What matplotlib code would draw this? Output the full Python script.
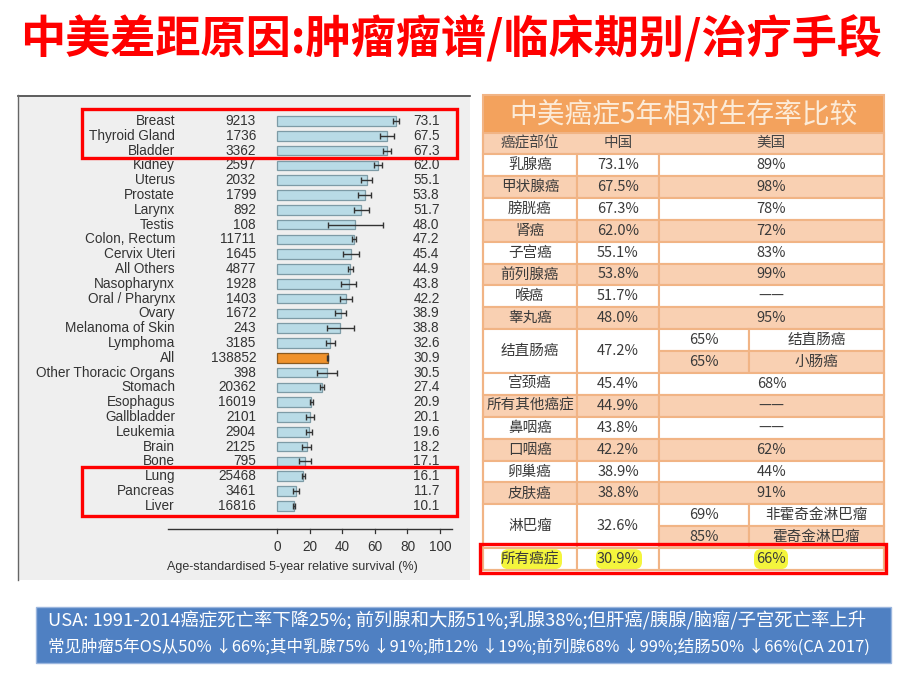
import matplotlib
matplotlib.use('Agg')
import matplotlib.pyplot as plt
from matplotlib.patches import Rectangle, FancyBboxPatch

plt.rcParams['font.family'] = ['Noto Sans CJK SC', 'DejaVu Sans']

# ---------------- data: left chart ----------------
sites = ['Breast', 'Thyroid Gland', 'Bladder', 'Kidney', 'Uterus', 'Prostate', 'Larynx',
         'Testis', 'Colon, Rectum', 'Cervix Uteri', 'All Others', 'Nasopharynx',
         'Oral / Pharynx', 'Ovary', 'Melanoma of Skin', 'Lymphoma', 'All',
         'Other Thoracic Organs', 'Stomach', 'Esophagus', 'Gallbladder', 'Leukemia',
         'Brain', 'Bone', 'Lung', 'Pancreas', 'Liver']
cases = [9213, 1736, 3362, 2597, 2032, 1799, 892, 108, 11711, 1645, 4877, 1928, 1403,
         1672, 243, 3185, 138852, 398, 20362, 16019, 2101, 2904, 2125, 795, 25468, 3461, 16816]
survival = [73.1, 67.5, 67.3, 62.0, 55.1, 53.8, 51.7, 48.0, 47.2, 45.4, 44.9, 43.8, 42.2,
            38.9, 38.8, 32.6, 30.9, 30.5, 27.4, 20.9, 20.1, 19.6, 18.2, 17.1, 16.1, 11.7, 10.1]
ci_half = [2.0, 4.5, 2.5, 2.4, 3.4, 4.0, 4.6, 17.0, 1.3, 5.0, 1.5, 4.7, 3.6, 3.6, 8.4,
           2.6, 0.5, 6.0, 1.0, 1.0, 2.5, 2.0, 2.8, 3.8, 0.7, 1.8, 0.7]
x_ticks = [0, 20, 40, 60, 80, 100]
x_label = 'Age-standardised 5-year relative survival (%)'

# ---------------- data: right table ----------------
table_title = '中美癌症5年相对生存率比较'
table_header = ['癌症部位', '中国', '美国']
cn_sites = ['乳腺癌', '甲状腺癌', '膀胱癌', '肾癌', '子宫癌', '前列腺癌', '喉癌', '睾丸癌',
            '结直肠癌', '宫颈癌', '所有其他癌症', '鼻咽癌', '口咽癌', '卵巢癌', '皮肤癌',
            '淋巴瘤', '所有癌症']
cn_china = ['73.1%', '67.5%', '67.3%', '62.0%', '55.1%', '53.8%', '51.7%', '48.0%',
            '47.2%', '45.4%', '44.9%', '43.8%', '42.2%', '38.9%', '38.8%', '32.6%', '30.9%']
cn_usa = ['89%', '98%', '78%', '72%', '83%', '99%', '——', '95%', None, '68%', '——', '——',
          '62%', '44%', '91%', None, '66%']
split_usa = {8: [('65%', '结直肠癌'), ('65%', '小肠癌')],
             15: [('69%', '非霍奇金淋巴瘤'), ('85%', '霍奇金淋巴瘤')]}

title = '中美差距原因:肿瘤瘤谱/临床期别/治疗手段'
note1 = 'USA: 1991-2014癌症死亡率下降25%; 前列腺和大肠51%;乳腺38%;但肝癌/胰腺/脑瘤/子宫死亡率上升'
note2 = '常见肿瘤5年OS从50% ↓66%;其中乳腺75% ↓91%;肺12% ↓19%;前列腺68% ↓99%;结肠50% ↓66%(CA 2017)'

W, H = 920, 688
fig = plt.figure(figsize=(W / 100, H / 100), dpi=100)
fig.patch.set_facecolor('white')

# background pixel axes
bg = fig.add_axes([0, 0, 1, 1])
bg.set_xlim(0, W); bg.set_ylim(H, 0); bg.axis('off')

# title
bg.text(451, 40, title, color='#ff0000', fontsize=32.5, fontweight='bold',
        ha='center', va='center')

# left image background
bg.add_patch(Rectangle((18, 95), 452, 485, facecolor='#efefef', edgecolor='none'))
bg.plot([18, 470], [95.5, 95.5], color='#444444', lw=1.2)
bg.plot([18.5, 18.5], [95, 580], color='#666666', lw=1.0)

# ---------------- left bar chart ----------------
px0, ppu = 277.3, 1.627        # pixel of x=0, pixels per unit
r0, rstep = 121.0, 14.8        # pixel of row 0, pixels per row
def xd(p): return (p - px0) / ppu
def yd(p): return (p - r0) / rstep

ax = fig.add_axes([18 / W, 1 - 580 / H, 452 / W, 485 / H])
ax.set_xlim(xd(18), xd(470))
ax.set_ylim(yd(580), yd(95))
ax.axis('off')
ax.patch.set_alpha(0)

ypos = list(range(len(sites)))
colors = ['#f0922b' if s == 'All' else '#b9dbe6' for s in sites]
edges = ['#8a5a20' if s == 'All' else '#7d9ba6' for s in sites]
ax.barh(ypos, survival, height=0.66, color=colors, edgecolor=edges, linewidth=0.9, zorder=2)
ax.errorbar(survival, ypos, xerr=ci_half, fmt='none', ecolor='#333333', elinewidth=1.0,
            capsize=2.5, capthick=1.0, zorder=3)

txtc = '#333333'
fs = 9.8
for i, (s, n, v) in enumerate(zip(sites, cases, survival)):
    ax.text(xd(175), i, s, ha='right', va='center', fontsize=fs, color=txtc,
            family='Liberation Sans')
    ax.text(xd(256), i, str(n), ha='right', va='center', fontsize=fs, color=txtc,
            family='Liberation Sans')
    ax.text(xd(439.5), i, f'{v:.1f}', ha='right', va='center', fontsize=fs, color=txtc,
            family='Liberation Sans')

ya = yd(529)
ax.plot([xd(168), xd(452)], [ya, ya], color='#333333', lw=1.0, clip_on=False)
for t in x_ticks:
    ax.plot([t, t], [ya, ya + 0.3], color='#333333', lw=0.9, clip_on=False)
    ax.text(t, yd(547), str(t), ha='center', va='center', fontsize=fs, color=txtc,
            family='Liberation Sans')
ax.text(xd(292), yd(567), x_label, ha='center', va='center', fontsize=9, color=txtc,
        family='Liberation Sans')

# ---------------- right table ----------------
peach = '#f9d0b2'
orange = '#f3a25d'
grid = '#f1b485'
tx0, tx1 = 483, 884
c1, c2, c3 = 577, 659, 749
ttop, hdr_top, hdr_bot = 95, 133, 154
rh = 21.9
tfs = 10.5

bg.add_patch(Rectangle((tx0, ttop), tx1 - tx0, hdr_top - ttop, facecolor=orange,
                       edgecolor='none'))
bg.text((tx0 + tx1) / 2, (ttop + hdr_top) / 2 + 1, table_title, color='#fcebd8',
        fontsize=20, ha='center', va='center')
bg.add_patch(Rectangle((tx0, hdr_top), tx1 - tx0, hdr_bot - hdr_top, facecolor=peach,
                       edgecolor=grid, lw=1.5))
for lbl, cx in zip(table_header, [(tx0 + c1) / 2, (c1 + c2) / 2, (c2 + tx1) / 2]):
    bg.text(cx, (hdr_top + hdr_bot) / 2, lbl, fontsize=tfs, color='#444444',
            ha='center', va='center')

tcol = '#3a3a3a'
y = hdr_bot
sub = 0
for i, site in enumerate(cn_sites):
    nsub = 2 if i in split_usa else 1
    h = rh * nsub
    fc = 'white' if sub % 2 == 0 else peach
    bg.add_patch(Rectangle((tx0, y), c1 - tx0, h, facecolor=fc, edgecolor=grid, lw=1.5))
    bg.add_patch(Rectangle((c1, y), c2 - c1, h, facecolor=fc, edgecolor=grid, lw=1.5))
    if i in split_usa:
        for k, (val, name) in enumerate(split_usa[i]):
            fck = 'white' if (sub + k) % 2 == 0 else peach
            yy = y + k * rh
            bg.add_patch(Rectangle((c2, yy), c3 - c2, rh, facecolor=fck, edgecolor=grid, lw=1.5))
            bg.add_patch(Rectangle((c3, yy), tx1 - c3, rh, facecolor=fck, edgecolor=grid, lw=1.5))
            bg.text((c2 + c3) / 2, yy + rh / 2, val, fontsize=tfs, color=tcol,
                    ha='center', va='center')
            bg.text((c3 + tx1) / 2, yy + rh / 2, name, fontsize=tfs, color=tcol,
                    ha='center', va='center')
    else:
        bg.add_patch(Rectangle((c2, y), tx1 - c2, h, facecolor=fc, edgecolor=grid, lw=1.5))
        if site == '所有癌症':
            for (hx0, hx1) in [(500, 563), (595, 643), (753, 789)]:
                bg.add_patch(FancyBboxPatch((hx0 + 4, y + 4), hx1 - hx0 - 8, h - 8,
                                            boxstyle='round,pad=3,rounding_size=7',
                                            facecolor='#f4f53c', edgecolor='none'))
        bg.text((c2 + tx1) / 2, y + h / 2, cn_usa[i], fontsize=tfs, color=tcol,
                ha='center', va='center')
    bg.text((tx0 + c1) / 2, y + h / 2, site, fontsize=tfs, color=tcol, ha='center',
            va='center')
    bg.text((c1 + c2) / 2, y + h / 2, cn_china[i], fontsize=tfs, color=tcol, ha='center',
            va='center')
    y += h
    sub += nsub

bg.add_patch(Rectangle((tx0, ttop), tx1 - tx0, y - ttop, facecolor='none',
                       edgecolor=grid, lw=1.5))

# ---------------- bottom note box ----------------
bg.add_patch(Rectangle((36, 607), 855, 56, facecolor='#4f80c2', edgecolor='#9bb6de', lw=1.0))
bg.text(48, 621, note1, color='white', fontsize=13.2, ha='left', va='center')
bg.text(48, 647, note2, color='white', fontsize=11.9, ha='left', va='center')

# ---------------- red highlight boxes (on top) ----------------
top = fig.add_axes([0, 0, 1, 1], zorder=10)
top.set_xlim(0, W); top.set_ylim(H, 0); top.axis('off'); top.patch.set_alpha(0)
for (x0, y0, x1, y1) in [(82, 109, 457, 158), (82, 467, 457, 516), (480, 544, 886, 573)]:
    top.add_patch(Rectangle((x0, y0), x1 - x0, y1 - y0, facecolor='none',
                            edgecolor='#ff0000', lw=2.4))

fig.savefig('out.png', dpi=100)
